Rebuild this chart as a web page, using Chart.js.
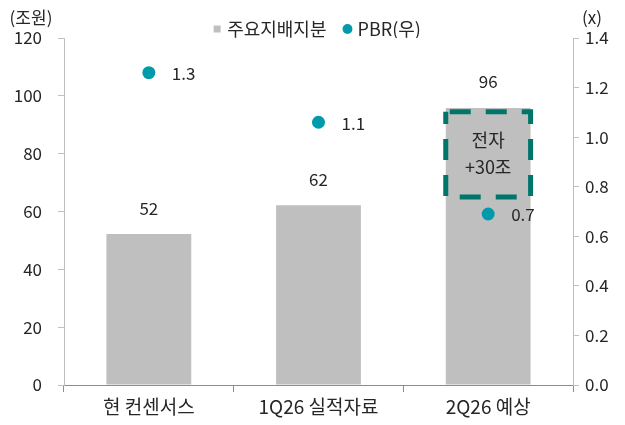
<!DOCTYPE html>
<html>
<head>
<meta charset="utf-8">
<script src="https://cdn.jsdelivr.net/npm/chart.js@4.4.1/dist/chart.umd.min.js"></script>
<style>
  body { margin: 0; background: #fff; }
  #wrap { width: 625px; height: 425px; }
</style>
</head>
<body>
<div id="wrap"><canvas id="chart"></canvas></div>
<script>
// data
var categories = ['현 컨센서스', '1Q26 실적자료', '2Q26 예상'];
var equity = [52.2, 62.2, 95.8];      // 주요지배지분 (조원)
var pbr = [1.26, 1.06, 0.69];         // PBR (x), right axis
var leftTicks = [0, 20, 40, 60, 80, 100, 120];
var rightTicks = [0, 0.2, 0.4, 0.6, 0.8, 1.0, 1.2, 1.4];
var noteLines = ['전자', '+30조'];
var noteRange = [94.5, 65];          // note box top / bottom, in left-axis units

var FONT = "'Noto Sans CJK KR', 'Noto Sans', sans-serif";
var TXT = '#262626';

// pin the legend box height so the plot starts right under it
var legendHeight = {
  id: 'legendHeight',
  beforeLayout: function(chart) {
    var lg = chart.legend;
    if (lg && !lg._patched) {
      var fit = lg.fit;
      lg.fit = function() { fit.call(this); this.height = 38; };
      lg._patched = true;
    }
  }
};

// value labels, axis units, note box
var extras = {
  id: 'extras',
  afterDatasetsDraw: function(chart) {
    var ctx = chart.ctx;
    var yL = chart.scales.y;
    ctx.save();
    ctx.font = '17px ' + FONT;
    ctx.fillStyle = TXT;
    ctx.textBaseline = 'middle';

    var bars = chart.getDatasetMeta(0).data;
    ctx.textAlign = 'center';
    bars.forEach(function(el, i) {
      ctx.fillText(Math.round(equity[i]), el.x, el.y - 26);
    });

    var pts = chart.getDatasetMeta(1).data;
    ctx.textAlign = 'left';
    pts.forEach(function(el, i) {
      ctx.fillText(pbr[i].toFixed(1), el.x + 23, el.y + 1);
    });

    // dashed note on the last bar
    var b = bars[2];
    var x0 = b.x - b.width / 2, x1 = b.x + b.width / 2;
    var y0 = yL.getPixelForValue(noteRange[0]);
    var y1 = yL.getPixelForValue(noteRange[1]);
    ctx.strokeStyle = '#00766a';
    ctx.lineWidth = 5;
    ctx.setLineDash([21, 15]);
    ctx.lineDashOffset = -4;
    ctx.strokeRect(x0, y0, x1 - x0, y1 - y0);
    ctx.setLineDash([]);
    ctx.textAlign = 'center';
    ctx.font = '18px ' + FONT;
    var cy = (y0 + y1) / 2;
    ctx.fillText(noteLines[0], b.x, cy - 14);
    ctx.fillText(noteLines[1], b.x, cy + 13);

    // axis units
    ctx.font = '17px ' + FONT;
    ctx.fillText('(조원)', 31, 18);
    ctx.fillText('(x)', 592, 18);
    ctx.restore();
  }
};

var ctx = document.getElementById('chart').getContext('2d');
var chart = new Chart(ctx, {
  type: 'bar',
  data: {
    labels: categories,
    datasets: [{
      label: '주요지배지분',
      data: equity,
      backgroundColor: '#bfbfbf',
      categoryPercentage: 1,
      barPercentage: 0.5,
      yAxisID: 'y',
      pointStyle: 'rect',
      order: 1
    }, {
      type: 'line',
      label: 'PBR(우)',
      data: pbr,
      showLine: false,
      pointRadius: 6.5,
      pointBackgroundColor: '#009aaa',
      pointBorderWidth: 0,
      backgroundColor: '#009aaa',
      borderColor: '#009aaa',
      yAxisID: 'y1',
      pointStyle: 'circle',
      order: 0
    }]
  },
  options: {
    responsive: true,
    maintainAspectRatio: false,
    animation: false,
    layout: { padding: 0 },
    plugins: {
      tooltip: { enabled: false },
      legend: {
        position: 'top',
        fullSize: false,
        labels: {
          usePointStyle: true,
          boxWidth: 2,
          boxHeight: 7,
          padding: 20,
          color: TXT,
          font: { family: FONT, size: 18 },
          sort: function(a, b) { return a.datasetIndex - b.datasetIndex; }
        }
      }
    },
    scales: {
      x: {
        grid: { offset: true, drawOnChartArea: false, tickLength: 7, color: '#8c8c8c' },
        border: { color: '#8c8c8c' },
        ticks: { color: TXT, font: { family: FONT, size: 19 }, padding: 3 },
        afterFit: function(s) { s.height = 40; }
      },
      y: {
        position: 'left',
        min: 0, max: 120,
        afterBuildTicks: function(s) { s.ticks = leftTicks.map(function(v) { return { value: v }; }); },
        grid: { drawOnChartArea: false, tickLength: 6, color: '#bfbfbf' },
        border: { color: '#bfbfbf' },
        ticks: { color: TXT, font: { family: FONT, size: 17 }, padding: 16 },
        afterFit: function(s) { s.width = 64; }
      },
      y1: {
        position: 'right',
        min: 0, max: 1.4,
        afterBuildTicks: function(s) { s.ticks = rightTicks.map(function(v) { return { value: v }; }); },
        grid: { drawOnChartArea: false, tickLength: 6, color: '#bfbfbf' },
        border: { color: '#bfbfbf' },
        ticks: {
          color: TXT, font: { family: FONT, size: 17 }, padding: 6,
          callback: function(v) { return Number(v).toFixed(1); }
        },
        afterFit: function(s) { s.width = 52; }
      }
    }
  },
  plugins: [legendHeight, extras]
});
</script>
</body>
</html>
